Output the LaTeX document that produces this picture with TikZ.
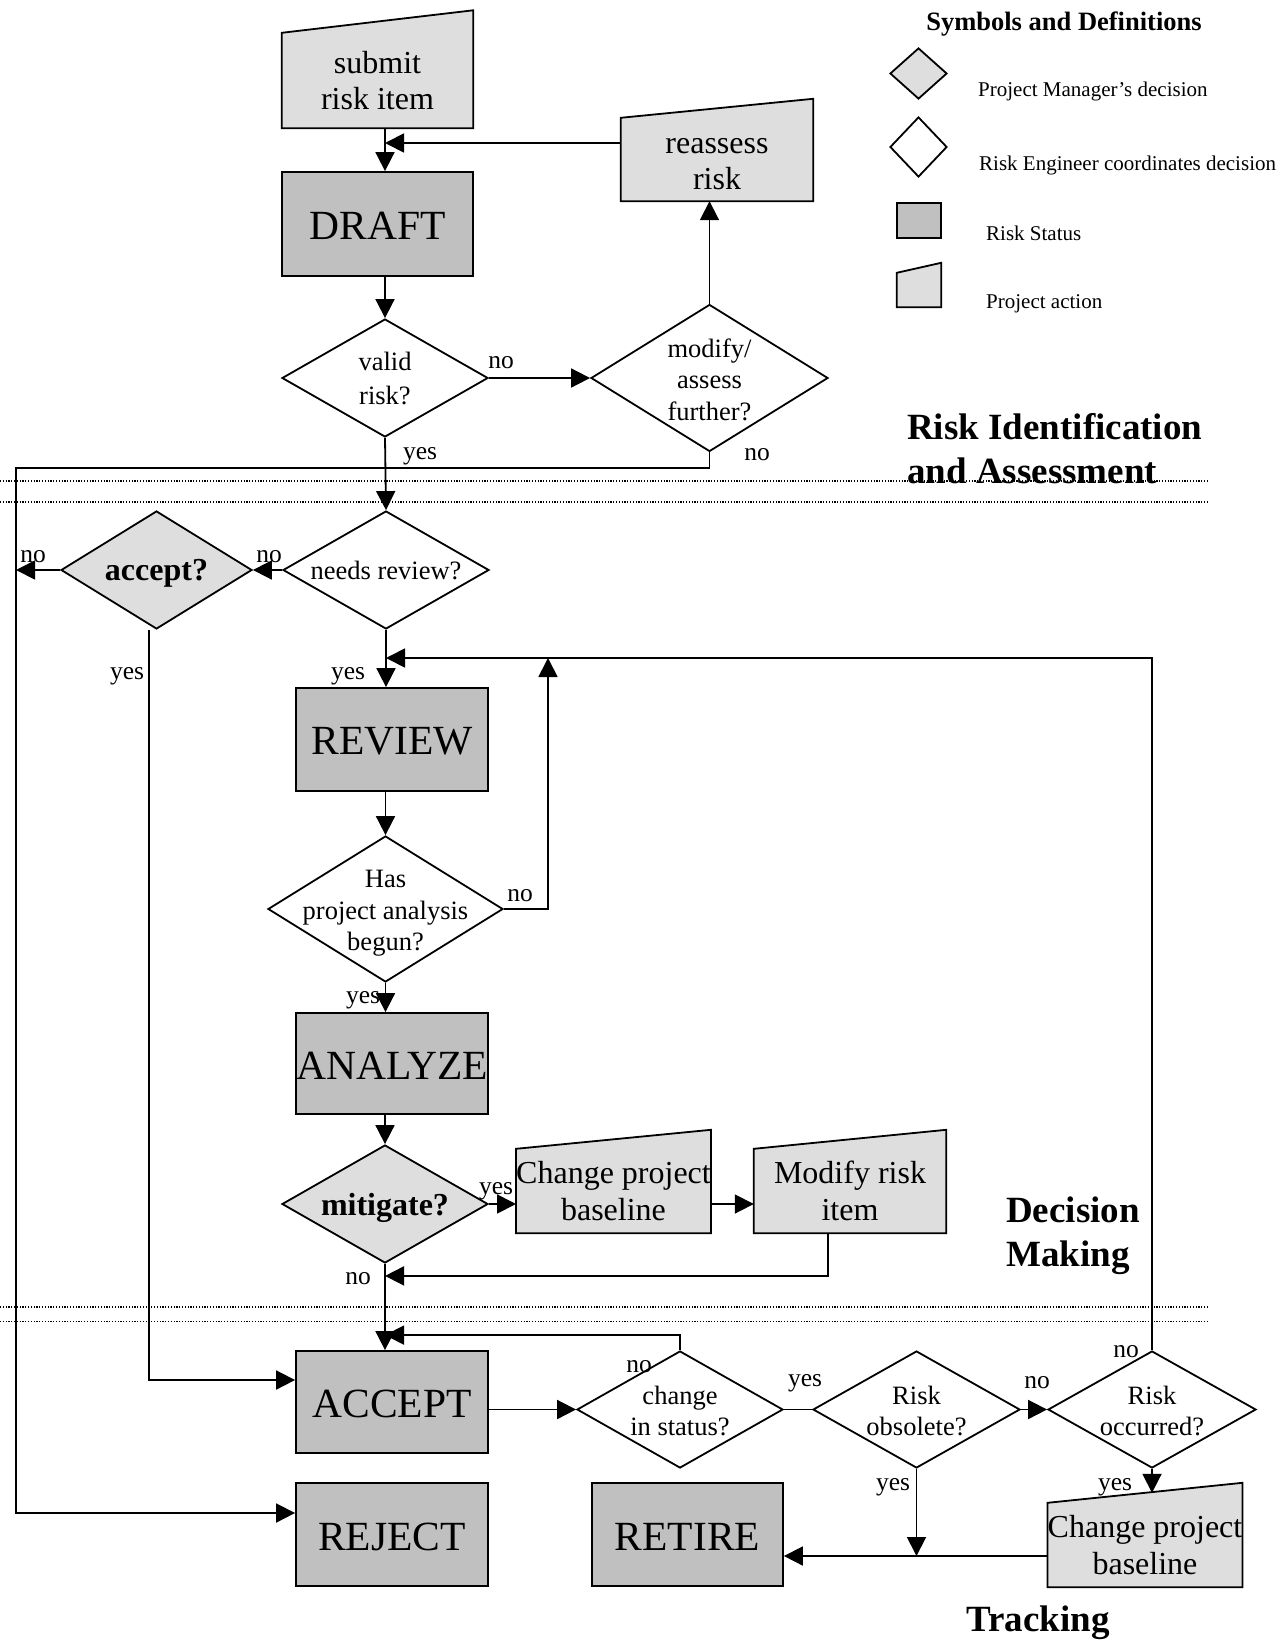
\documentclass[tikz,border=0pt]{standalone}
\usepackage{fontspec}
\setmainfont{Liberation Serif}
\usepackage{tikz}
\usetikzlibrary{arrows.meta,shapes.geometric,backgrounds}
\definecolor{actgray}{RGB}{222,222,222}
\definecolor{statgray}{RGB}{192,192,192}
\tikzset{
  arr/.style={-{Triangle[length=19pt,width=19pt]},line width=1.8pt},
  link/.style={line width=1.8pt},
  sepline/.style={line width=1.2pt,dash pattern=on 1.2pt off 1.6pt},
  statbox/.style={rectangle,draw,fill=statgray,line width=1.8pt,inner sep=0pt,
    text height=31.5pt,font=\fontsize{41.5}{48}\selectfont},
  actbox/.style={rectangle,inner sep=0pt,align=center,
    execute at begin node={\vphantom{A}},font=\fontsize{32}{36.6}\selectfont},
  actshape/.style={draw,fill=actgray,line width=1.8pt},
  redec/.style={diamond,draw,fill=white,line width=1.8pt,inner sep=0pt},
  pmdec/.style={diamond,draw,fill=actgray,line width=1.8pt,inner sep=0pt},
  dtext/.style={align=center,font=\fontsize{26.5}{31.5}\selectfont},
  btext/.style={yshift=-3.5pt,font=\fontsize{32}{36}\selectfont\bfseries},
  yn/.style={font=\fontsize{25.5}{30}\selectfont,inner sep=0pt}
}

\begin{document}
\begin{tikzpicture}[
  x=1pt,y=-1pt,
  phase/.style={font=\fontsize{37}{44}\selectfont\bfseries,align=left,anchor=west,inner sep=0pt},
  legtext/.style={font=\fontsize{21}{24}\selectfont,anchor=west,inner sep=0pt}
]
\useasboundingbox (0,0) rectangle (1287,1640);

% legend
\node[font=\fontsize{26.5}{30}\selectfont\bfseries,inner sep=0pt] (legtitle) at (1064,24) {Symbols and Definitions};
\node[pmdec,minimum width=57pt,minimum height=51pt] (legpm) at (918.5,73.5) {};
\node[redec,minimum width=57pt,minimum height=60pt] (legre) at (918.5,147) {};
\node[statbox,minimum width=44pt,minimum height=35pt] (legstat) at (919,220.5) {};
\node[actbox,minimum width=44pt,minimum height=34pt] (legact) at (919,290) {};
\node[legtext] (legpmtxt) at (978,91) {Project Manager's decision};
\node[legtext] (legretxt) at (979,165) {Risk Engineer coordinates decision};
\node[legtext] (legstattxt) at (986,233) {Risk Status};
\node[legtext] (legacttxt) at (986,304) {Project action};

% phase titles
\node[phase] (phaseid) at (907,449) {Risk Identification\\and Assessment};
\node[phase] (phasedm) at (1006,1236) {Decision\\Making};
\node[phase,anchor=center] (phasetr) at (1038,1623) {Tracking};

\foreach \y in {481,502,1307,1321.5}{
  \draw[sepline] (0,\y) -- (1208,\y);
}

% risk identification
\node[actbox,minimum width=191pt,minimum height=95pt] (submit) at (377.5,80.5) {submit\\risk item};
\node[statbox,minimum width=191pt,minimum height=104pt] (draft) at (377.5,224) {DRAFT};
\node[actbox,minimum width=192pt,minimum height=83pt,
  label={[actbox,inner sep=0pt,yshift=-4.5pt]center:{reassess\\risk}}] (reassess) at (717,159.5) {};
\node[redec,minimum width=206pt,minimum height=118pt,
  label={[dtext,font=\fontsize{26.5}{34}\selectfont]center:{valid\\risk?}}] (valid) at (385,378) {};
\node[redec,minimum width=237pt,minimum height=147pt,
  label={[dtext,yshift=-1.5pt]center:{modify/\\assess\\further?}}] (modify) at (709.5,378) {};

% decision making
\node[redec,minimum width=206pt,minimum height=118pt,
  label={[dtext]center:{needs review?}}] (needs) at (386,570) {};
\node[pmdec,minimum width=191pt,minimum height=118pt,
  label={[btext]center:{accept?}}] (accept) at (156.5,570) {};
\node[statbox,minimum width=192pt,minimum height=103pt] (review) at (392,739.5) {REVIEW};
\node[redec,minimum width=235pt,minimum height=146pt,
  label={[dtext,yshift=-4.5pt]center:{Has\\project analysis\\begun?}}] (has) at (385.5,909) {};
\node[statbox,minimum width=192pt,minimum height=101pt] (analyze) at (392,1063.5) {ANALYZE};
\node[pmdec,minimum width=206pt,minimum height=118pt,
  label={[btext]center:{mitigate?}}] (mitigate) at (385,1204) {};
\node[actbox,minimum width=191pt,minimum height=84pt] (cpbA) at (613.5,1191) {Change project\\baseline};
\node[actbox,minimum width=192pt,minimum height=84pt] (modrisk) at (850,1191) {Modify risk\\item};

% tracking
\node[statbox,minimum width=192pt,minimum height=102pt] (acceptbox) at (392,1402) {ACCEPT};
\node[statbox,minimum width=192pt,minimum height=103pt] (reject) at (392,1534.5) {REJECT};
\node[statbox,minimum width=191pt,minimum height=103pt] (retire) at (687.5,1534.5) {RETIRE};
\node[redec,minimum width=206pt,minimum height=117pt,
  label={[dtext,yshift=-1.5pt]center:{change\\in status?}}] (change) at (680,1409.5) {};
\node[redec,minimum width=207pt,minimum height=117pt,
  label={[dtext,yshift=-1.5pt]center:{Risk\\obsolete?}}] (obsolete) at (916.5,1409.5) {};
\node[redec,minimum width=208pt,minimum height=117pt,
  label={[dtext,yshift=-1.5pt]center:{Risk\\occurred?}}] (occurred) at (1152,1409.5) {};
\node[actbox,minimum width=192pt,minimum height=84pt] (cpbB) at (1145,1545) {Change project\\baseline};

\begin{scope}[on background layer]
  \foreach \n/\r in {submit/22.5,reassess/19,cpbA/19,modrisk/19,cpbB/20,legact/10}{
    \draw[actshape] (\n.south west) -- (\n.south east)
      -- ([yshift=\r pt]\n.north east) -- (\n.north west) -- cycle;
  }
\end{scope}

\coordinate (leftrail) at (16,468);
\coordinate (loopup) at (548,658);
\coordinate (retline) at ([yshift=-11pt]cpbB.west);

% connectors
\draw[arr] (submit.south -| valid.north) -- (draft.north -| valid.north);
\draw[arr] ([yshift=16.5pt]reassess.west) -- ([yshift=16.5pt]reassess.west -| valid.north);
\draw[arr] (draft.south -| valid.north) -- (valid.north);
\draw[arr] (valid.east) -- (modify.west);
\draw[arr] (modify.north) -- (modify.north |- reassess.south);
\draw[arr] (valid.south) -- (needs.north);
\draw[arr] (modify.south) |- (leftrail) |- ([yshift=21.5pt]reject.west);
\draw[arr] (needs.west) -- (accept.east);
\draw[arr] (accept.west) -- (accept.west -| leftrail);
\draw[arr] (needs.south) -- (review.north -| needs.south);
\draw[arr] ([xshift=-7.5pt]accept.south) |- ([yshift=22pt]acceptbox.west);
\draw[arr] (review.south -| has.north) -- (has.north);
\draw[arr] (has.east) -| (loopup);
\draw[arr] (occurred.north) |- (needs.south |- loopup);
\draw[arr] (has.south) -- (analyze.north -| has.south);
\draw[arr] (analyze.south -| mitigate.north) -- (mitigate.north);
\draw[arr] (mitigate.east) -- (cpbA.west |- mitigate.east);
\draw[arr] (cpbA.east |- mitigate.east) -- (modrisk.west |- mitigate.east);
\draw[arr] ([xshift=-22pt]modrisk.south) |- ([yshift=-12pt]mitigate.south);
\draw[arr] (mitigate.south) -- (acceptbox.north -| mitigate.south);
\draw[arr] (change.north) |- ([yshift=15pt]acceptbox.north -| mitigate.south);
\draw[arr] (acceptbox.east |- change.west) -- (change.west);
\draw[link] (change.east) -- (obsolete.west);
\draw[arr] (obsolete.east) -- (occurred.west);
\draw[arr] (occurred.south) -- ([yshift=10pt]cpbB.north -| occurred.south);
\draw[arr] (obsolete.south) -- (obsolete.south |- retline);
\draw[arr] (retline) -- (retline -| retire.east);

% yes / no
\node[yn] (noA) at (501,363) {no};
\node[yn] (yesA) at (420,456) {yes};
\node[yn] (noB) at (757,455) {no};
\node[yn] (noC) at (269,557) {no};
\node[yn] (noD) at (33,557) {no};
\node[yn] (yesB) at (127,676) {yes};
\node[yn] (yesC) at (348,676) {yes};
\node[yn] (noE) at (520,896) {no};
\node[yn] (yesD) at (363,1000) {yes};
\node[yn] (yesE) at (496,1191) {yes};
\node[yn] (noF) at (358,1279) {no};
\node[yn] (noG) at (639,1367) {no};
\node[yn] (yesF) at (805,1383) {yes};
\node[yn] (noH) at (1037,1383) {no};
\node[yn] (noI) at (1126,1352) {no};
\node[yn] (yesG) at (893,1487) {yes};
\node[yn] (yesH) at (1115,1487) {yes};
\end{tikzpicture}
\end{document}
